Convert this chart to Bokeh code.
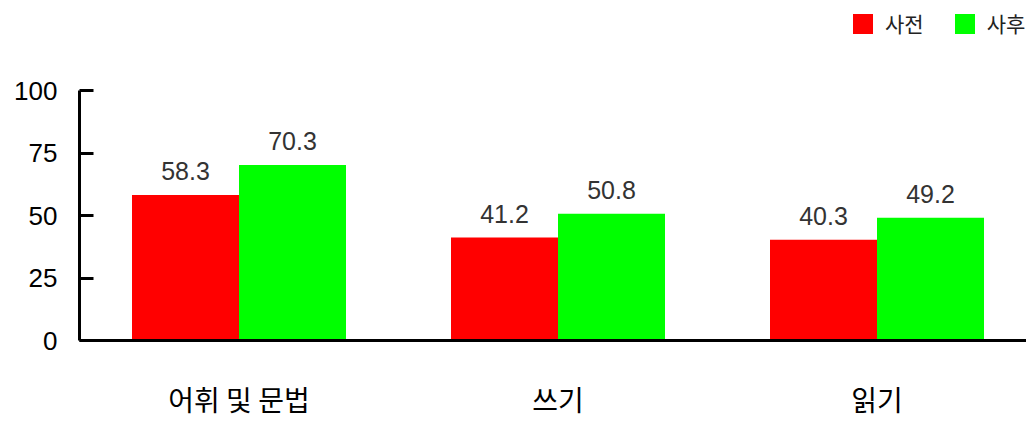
from bokeh.plotting import figure
from bokeh.models import Range1d, FixedTicker, Legend, LegendItem, ColumnDataSource, LabelSet
from bokeh.core.properties import value
from bokeh.embed import file_html
from bokeh.resources import INLINE

categories = ["어휘 및 문법", "쓰기", "읽기"]
pre = [58.3, 41.2, 40.3]
post = [70.3, 50.8, 49.2]
series = ["사전", "사후"]
colors = ["#ff0000", "#00ff00"]
y_ticks = [0, 25, 50, 75, 100]

centers = [i + 0.5 for i in range(len(categories))]
bw = 107 / 319
x_pre = [c - bw / 2 for c in centers]
x_post = [c + bw / 2 for c in centers]

src_pre = ColumnDataSource(dict(x=x_pre, top=pre, lab=[f"{v:.1f}" for v in pre]))
src_post = ColumnDataSource(dict(x=x_post, top=post, lab=[f"{v:.1f}" for v in post]))

W, H = 1026, 421
LEFT, BOTTOM = 79, 82
FRAME_H = H - BOTTOM          # frame spans from top edge to the x axis
AXIS_PX = 249                 # pixels for 0..100
p = figure(width=W, height=H, output_backend="svg", toolbar_location=None,
           x_range=Range1d(0, (W - LEFT) / 319),
           y_range=Range1d(0, 100 * FRAME_H / AXIS_PX),
           min_border_left=LEFT, min_border_right=0, min_border_top=0, min_border_bottom=0)
p.outline_line_color = None
p.xgrid.visible = False
p.ygrid.visible = False

r1 = p.vbar(x="x", top="top", width=bw, source=src_pre, fill_color=colors[0], line_color=None)
r2 = p.vbar(x="x", top="top", width=bw, source=src_post, fill_color=colors[1], line_color=None)

for s in (src_pre, src_post):
    p.add_layout(LabelSet(x="x", y="top", text="lab", source=s, y_offset=15,
                          text_align="center", text_baseline="bottom",
                          text_font=value("Liberation Sans"), text_font_size="25px",
                          text_color="#333333"))

# axes
p.yaxis.ticker = FixedTicker(ticks=y_ticks)
p.yaxis.bounds = (0, 100)
p.yaxis.axis_line_width = 3
p.yaxis.axis_line_color = "black"
p.yaxis.major_tick_in = 14
p.yaxis.major_tick_out = 0
p.yaxis.major_tick_line_width = 3
p.yaxis.minor_tick_line_color = None
p.yaxis.major_label_text_font = "Liberation Sans"
p.yaxis.major_label_text_font_size = "26px"
p.yaxis.major_label_text_color = "black"
p.yaxis.major_label_standoff = 22

p.xaxis.ticker = FixedTicker(ticks=centers)
p.xaxis.major_label_overrides = {c: lab for c, lab in zip(centers, categories)}
p.xaxis.axis_line_width = 3
p.xaxis.axis_line_color = "black"
p.xaxis.major_tick_line_color = None
p.xaxis.minor_tick_line_color = None
p.xaxis.major_label_text_font = "Noto Sans CJK KR"
p.xaxis.major_label_text_font_size = "28px"
p.xaxis.major_label_text_color = "black"
p.xaxis.major_label_standoff = 32

legend = Legend(items=[LegendItem(label=series[0], renderers=[r1]),
                       LegendItem(label=series[1], renderers=[r2])],
                location=(850 - LEFT, FRAME_H - 37), orientation="horizontal",
                glyph_width=25, glyph_height=25, label_standoff=10, spacing=28,
                label_text_font="Noto Sans CJK KR", label_text_font_size="21px",
                label_text_color="#222222", padding=0, margin=0,
                border_line_color=None, background_fill_alpha=0)
p.add_layout(legend)

open("out.html", "w").write(file_html(p, INLINE))
